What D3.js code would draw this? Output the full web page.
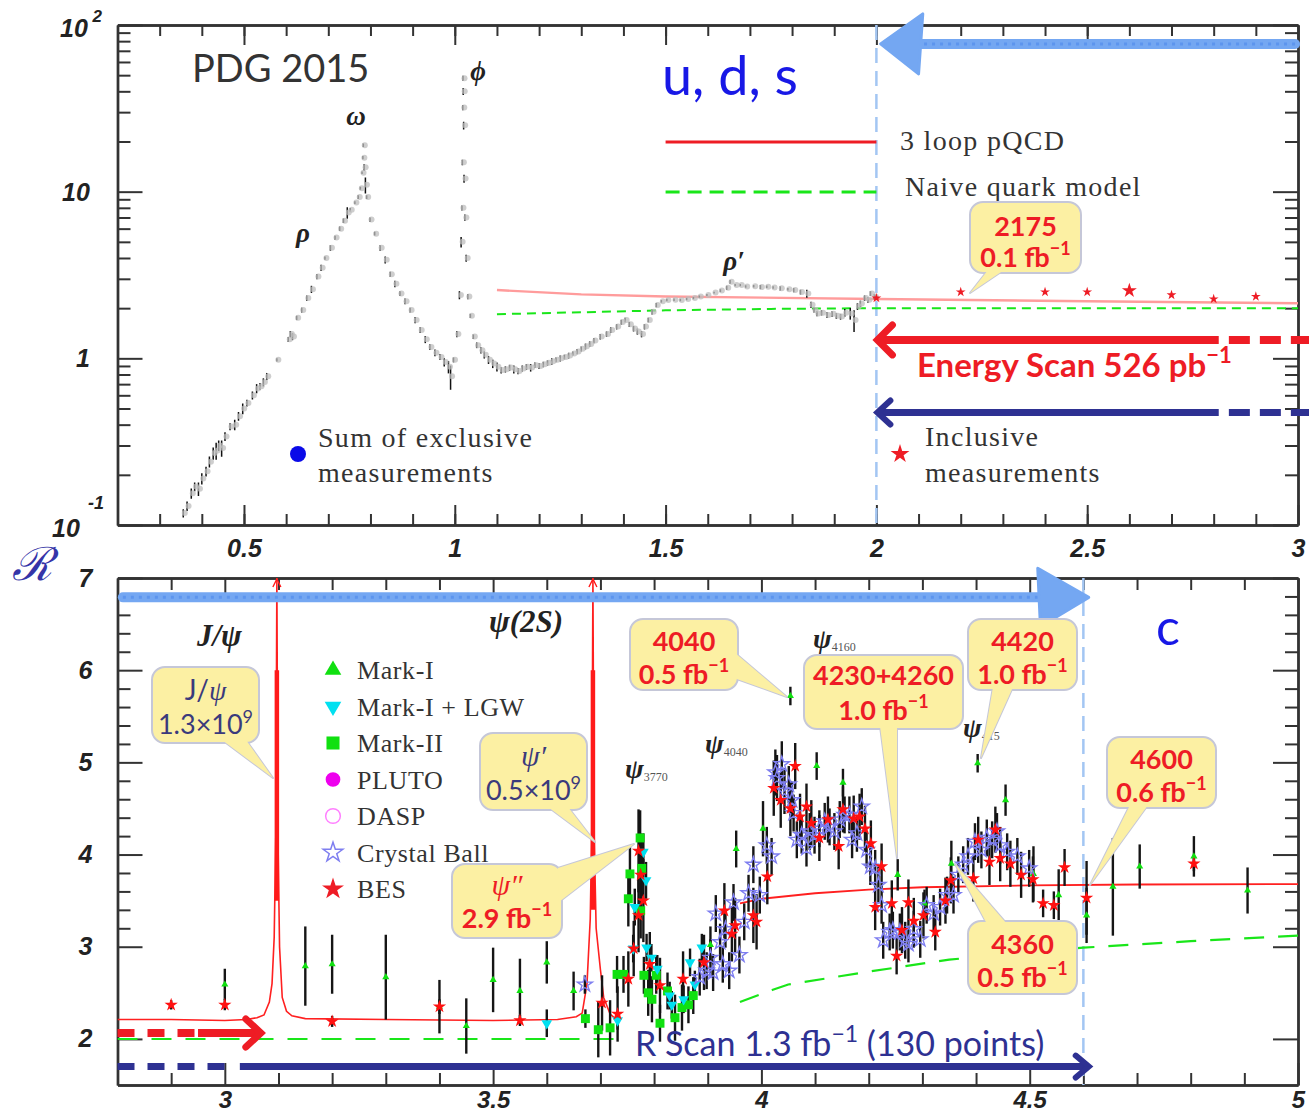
<!DOCTYPE html>
<html><head><meta charset="utf-8">
<script src="https://cdn.jsdelivr.net/npm/d3@7"></script>
<style>body{margin:0;background:#fff}svg{display:block}</style>
</head><body>
<svg id="c" width="1309" height="1115"></svg>
<script>
// ================= DATA =================
// top panel: sum of exclusive measurements [E (GeV), R, err]
const topExclusive = [
[0.356,0.118,0.01],[0.365,0.13,0.012],[0.375,0.155,0.015],[0.383,0.17,0.015],[0.392,0.165,0.02],[0.40,0.19,0.02],
[0.41,0.21,0.02],[0.418,0.24,0.025],[0.427,0.27,0.03],[0.434,0.28,0.04],[0.44,0.30,0.03],[0.447,0.29,0.04],
[0.455,0.34,0.03],[0.467,0.39,0.03],[0.478,0.40,0.04],[0.487,0.45,0.04],[0.497,0.50,0.05],[0.507,0.54,0.04],
[0.52,0.60,0.05],[0.53,0.66,0.06],[0.538,0.68,0.05],[0.546,0.72,0.06],[0.554,0.78,0.06],[0.578,0.98,0.05],
[0.605,1.30,0.08],[0.61,1.40,0.1],[0.615,1.35,0.1],[0.625,1.75,0.1],[0.637,1.95,0.12],[0.649,2.3,0.15],
[0.66,2.6,0.2],[0.673,3.1,0.2],[0.683,3.5,0.25],[0.692,4.0,0.2],[0.705,4.6,0.3],[0.716,5.3,0.3],
[0.727,6.0,0.35],[0.736,6.7,0.4],[0.745,7.5,0.8],[0.752,7.8,0.4],[0.763,8.6,0.4],[0.771,9.3,0.5],
[0.776,10.5,0.5],[0.78,13,0.6],[0.782,16,0.8],[0.783,19,1.0],[0.785,14,1.0],[0.788,11,1.5],
[0.791,9.3,0.5],[0.799,6.8,0.4],[0.81,5.6,0.3],[0.823,4.6,0.3],[0.835,3.9,0.3],[0.847,3.2,0.2],
[0.858,2.8,0.2],[0.870,2.45,0.15],[0.882,2.2,0.15],[0.894,1.95,0.12],[0.906,1.7,0.12],[0.918,1.48,0.1],
[0.93,1.3,0.1],[0.941,1.17,0.08],[0.953,1.08,0.08],[0.965,1.02,0.07],[0.975,0.95,0.08],[0.985,0.89,0.1],
[0.99,0.78,0.15],[0.997,0.98,0.06],[1.005,1.4,0.1],[1.011,2.4,0.2],[1.015,5,0.5],[1.017,8,0.5],
[1.018,15,1],[1.019,32,2],[1.0195,48,3],[1.020,40,3],[1.021,25,2],[1.022,12,1],[1.024,7,0.5],
[1.027,4.0,0.3],[1.031,2.35,0.15],[1.037,1.8,0.1],[1.044,1.35,0.08],[1.052,1.2,0.08],[1.062,1.12,0.08],
[1.07,1.05,0.08],[1.08,0.98,0.08],[1.09,0.93,0.08],[1.10,0.89,0.08],[1.11,0.85,0.06],[1.12,0.86,0.06],
[1.13,0.88,0.06],[1.14,0.86,0.07],[1.15,0.84,0.06],[1.16,0.87,0.06],[1.17,0.89,0.06],[1.18,0.88,0.07],
[1.19,0.91,0.06],[1.20,0.90,0.06],[1.21,0.92,0.06],[1.22,0.94,0.06],[1.23,0.96,0.07],[1.24,0.98,0.06],
[1.25,1.0,0.07],[1.26,1.02,0.06],[1.27,1.04,0.07],[1.28,1.07,0.06],[1.29,1.10,0.07],[1.30,1.14,0.07],
[1.31,1.18,0.08],[1.32,1.22,0.08],[1.33,1.28,0.08],[1.345,1.35,0.09],[1.36,1.40,0.09],[1.37,1.48,0.1],
[1.384,1.55,0.1],[1.395,1.65,0.1],[1.404,1.70,0.1],[1.414,1.60,0.1],[1.424,1.51,0.1],[1.433,1.45,0.1],
[1.443,1.40,0.1],[1.45,1.55,0.1],[1.459,1.70,0.1],[1.468,1.90,0.12],[1.478,2.09,0.12],[1.49,2.2,0.1],
[1.503,2.24,0.1],[1.52,2.25,0.1],[1.535,2.24,0.1],[1.55,2.27,0.1],[1.566,2.30,0.1],[1.58,2.35,0.1],
[1.598,2.40,0.1],[1.615,2.48,0.1],[1.63,2.55,0.12],[1.645,2.65,0.15],[1.653,2.88,0.15],[1.665,2.75,0.12],
[1.677,2.75,0.12],[1.69,2.70,0.12],[1.709,2.71,0.12],[1.725,2.68,0.15],[1.74,2.69,0.12],[1.755,2.66,0.12],
[1.772,2.63,0.15],[1.79,2.6,0.12],[1.804,2.57,0.15],[1.82,2.5,0.15],[1.835,2.45,0.2],[1.845,2.1,0.15],
[1.852,1.95,0.12],[1.859,1.86,0.12],[1.87,1.88,0.12],[1.883,1.82,0.12],[1.895,1.85,0.12],[1.905,1.80,0.12],
[1.915,1.78,0.12],[1.925,1.88,0.15],[1.938,1.86,0.2],[1.947,1.70,0.3],[1.955,2.05,0.15],[1.962,2.13,0.15],
[1.972,2.3,0.15],[1.98,2.25,0.15],[1.986,2.45,0.15],[1.995,2.35,0.15]
];
// top panel: inclusive measurements [E, R, size-class]
const topInclusive = [[2.0,2.3,0],[2.2,2.5,0],[2.4,2.5,0],[2.5,2.5,0],[2.6,2.55,1],[2.7,2.4,0],[2.8,2.27,0],[2.9,2.35,0]];
const topPQCD  = [[1.1,2.57],[1.3,2.42],[1.5,2.35],[2.0,2.27],[2.5,2.2],[3.0,2.14]];
const topNaive = [[1.1,1.84],[1.3,1.89],[1.5,1.94],[1.75,1.98],[2.0,2.0],[3.0,2.0]];

// bottom panel experiments [E, R, err]
const markI = [
[3.0,2.59,0.17],[3.15,2.79,0.43],[3.2,2.81,0.32],[3.3,2.67,0.46],[3.4,2.35,0.29],[3.45,2.14,0.30],
[3.5,2.64,0.35],[3.55,2.52,0.35],[3.6,2.83,0.23],[3.65,2.52,0.21],[3.905,3.02,0.2],[3.953,4.06,0.2],
[4.003,4.28,0.3],[4.054,5.72,0.1],[4.103,4.96,0.15],[4.152,4.78,0.15],[4.254,3.78,0.17],[4.304,3.47,0.15],
[4.354,3.90,0.25],[4.403,4.99,0.1],[4.455,4.59,0.17],[4.507,3.79,0.3],[4.554,3.56,0.28],[4.606,3.34,0.3],
[4.655,3.65,0.53],[4.705,3.87,0.24],[4.806,3.98,0.22],[4.906,3.61,0.25]
];
const markILGW = [
[3.6,2.17,0.15],[3.732,2.20,0.1],[3.761,2.98,0.15],[3.764,3.43,0.2],[3.780,4.03,0.2],[3.785,3.72,0.2],
[3.786,2.99,0.15],[3.795,2.88,0.15],[3.806,2.76,0.15],[3.829,2.47,0.15],[3.833,2.37,0.15],[3.855,2.43,0.15],
[3.867,2.83,0.15],[3.876,2.59,0.15],[3.889,2.99,0.15]
];
const markII = [
[3.672,2.22,0.1],[3.696,2.10,0.3],[3.718,2.12,0.3],[3.731,2.70,0.2],[3.743,2.70,0.2],[3.752,3.52,0.3],
[3.755,3.79,0.3],[3.774,4.18,0.3],[3.777,3.85,0.3],[3.775,3.39,0.3],[3.781,2.69,0.2],[3.789,2.50,0.25],
[3.796,2.43,0.25],[3.804,2.69,0.2],[3.811,2.17,0.2],[3.825,2.52,0.2],[3.839,2.23,0.25],[3.852,2.34,0.25],
[3.864,2.37,0.2],[3.873,2.47,0.2]
];
const pluto = [];
const dasp = [];
const crystalBall = [
[3.671,2.59,0.1],[3.885,2.67,0.2],[3.898,2.74,0.2],[3.905,2.88,0.2],[3.910,2.72,0.2],[3.915,3.36,0.2],
[3.923,3.05,0.2],[3.928,2.81,0.2],[3.933,3.19,0.2],[3.940,2.74,0.2],[3.948,3.48,0.2],[3.959,2.91,0.2],
[3.968,3.27,0.2],[3.976,3.58,0.2],[3.985,3.89,0.2],[3.997,3.56,0.2],[4.010,4.10,0.2],[4.019,3.98,0.2],
[4.026,4.89,0.25],[4.029,4.83,0.25],[4.038,4.98,0.25],[4.043,4.69,0.25],[4.051,4.76,0.2],[4.057,4.59,0.2],
[4.060,4.45,0.2],[4.066,4.16,0.2],[4.075,4.21,0.2],[4.084,4.07,0.2],[4.090,4.25,0.2],[4.099,4.21,0.2],
[4.108,4.28,0.2],[4.118,4.36,0.2],[4.127,4.30,0.2],[4.136,4.25,0.2],[4.146,4.38,0.2],[4.155,4.43,0.2],
[4.164,4.43,0.2],[4.169,4.16,0.2],[4.178,4.23,0.2],[4.187,4.52,0.2],[4.196,4.05,0.2],[4.203,3.87,0.2],
[4.212,3.85,0.2],[4.218,3.67,0.2],[4.224,3.45,0.2],[4.227,3.07,0.2],[4.239,3.16,0.2],[4.245,3.18,0.2],
[4.258,3.16,0.2],[4.268,3.07,0.2],[4.274,3.03,0.2],[4.284,3.19,0.2],[4.296,3.08,0.2],[4.308,3.45,0.2],
[4.321,3.36,0.2],[4.333,3.43,0.2],[4.346,3.56,0.2],[4.358,3.56,0.2],[4.367,3.78,0.2],[4.376,3.89,0.2],
[4.385,3.98,0.2],[4.398,4.14,0.2],[4.410,4.05,0.2],[4.420,4.18,0.2],[4.430,4.16,0.2],[4.439,4.25,0.2],
[4.445,4.10,0.2],[4.458,4.03,0.2],[4.477,3.98,0.2],[4.499,3.85,0.2]
];
const bes = [
[2.9,2.37,0.05],[3.0,2.37,0.06],[3.2,2.19,0.06],[3.4,2.35,0.08],[3.55,2.2,0.06],[3.703,2.39,0.3],
[3.732,2.27,0.3],[3.752,2.65,0.3],[3.762,2.98,0.3],[3.771,4.04,0.45],[3.775,3.78,0.45],[3.780,3.50,0.45],
[3.771,3.34,0.4],[3.792,2.81,0.35],[3.811,2.58,0.3],[3.854,2.65,0.3],[3.893,2.83,0.3],[3.931,3.39,0.3],
[3.945,3.14,0.3],[3.951,3.23,0.3],[3.985,3.34,0.3],[3.991,3.27,0.3],[4.011,3.76,0.3],[4.023,4.72,0.3],
[4.036,4.59,0.3],[4.054,4.50,0.3],[4.063,4.96,0.25],[4.072,4.41,0.25],[4.084,4.52,0.25],[4.093,4.34,0.25],
[4.108,4.18,0.25],[4.124,4.38,0.25],[4.144,4.09,0.25],[4.152,4.49,0.25],[4.172,4.39,0.25],[4.183,4.41,0.25],
[4.193,4.28,0.25],[4.204,4.12,0.25],[4.212,3.43,0.25],[4.224,3.87,0.25],[4.243,3.47,0.25],[4.252,2.90,0.2],
[4.262,3.18,0.25],[4.274,3.48,0.25],[4.284,3.28,0.25],[4.302,3.34,0.25],[4.324,3.16,0.2],[4.343,3.50,0.25],
[4.353,3.72,0.25],[4.395,3.74,0.25],[4.404,4.16,0.25],[4.425,3.92,0.25],[4.436,4.27,0.25],[4.445,3.96,0.25],
[4.464,3.90,0.25],[4.484,3.78,0.25],[4.506,3.73,0.25],[4.525,3.47,0.15],[4.545,3.45,0.15],[4.565,3.86,0.2],
[4.606,3.53,0.4],[4.806,3.90,0.08]
];
// bottom panel theory curves [E, R]
const botPQCDLow = [[2.8,2.21],[2.9,2.21],[3.0,2.2],[3.04,2.21],[3.06,2.23],[3.073,2.26],[3.083,2.4],[3.088,2.6],
[3.092,3.1],[3.095,4.2],[3.097,7.0],[3.099,4.2],[3.102,3.0],[3.107,2.45],[3.115,2.3],[3.125,2.25],[3.15,2.22],
[3.3,2.21],[3.5,2.2],[3.62,2.21],[3.655,2.24],[3.666,2.28],[3.675,2.6],[3.681,3.3],[3.684,4.3],[3.686,7.0],
[3.688,4.3],[3.692,3.2],[3.70,2.75],[3.706,2.45],[3.718,2.27],[3.73,2.21]];
const botPQCDHigh = [[3.96,3.47],[4.0,3.52],[4.1,3.58],[4.2,3.62],[4.3,3.645],[4.5,3.665],[4.7,3.675],[5.0,3.68]];
const botNaiveLow = [[2.8,2.0],[3.73,2.0]];
const botNaiveHigh = [[3.96,2.40],[4.02,2.53],[4.05,2.59],[4.2,2.73],[4.35,2.86],[4.6,2.99],[4.8,3.06],[5.0,3.12]];
const resonances = [[3.097,3.5,6.0],[3.686,3.4,6.0]]; // [E, thick-from R, thick-to R]

// axis ticks / labels
const topXMajor = [0.5,1,1.5,2,2.5,3];
const topXLabels = ["0.5","1","1.5","2","2.5","3"];
const topYMajor = [0.1,1,10,100];
const botXMajor = [3,3.5,4,4.5,5];
const botXLabels = ["3","3.5","4","4.5","5"];
const botYMajor = [2,3,4,5,6,7];
const botYLabels = ["2","3","4","5","6","7"];

// ================= DRAW =================
const svg = d3.select("#c");
svg.append("rect").attr("width",1309).attr("height",1115).attr("fill","#fff");
const xT = d3.scaleLinear().domain([0.2,3]).range([117.5,1298]);
const yT = d3.scaleLog().domain([0.1,100]).range([525,25]);
const xB = d3.scaleLinear().domain([2.8,5]).range([117.5,1298]);
const yB = d3.scaleLinear().domain([1.5,7]).range([1085,578]);

const RED="#ee1c25", NAVY="#2e3192", LBLUE="#74a7f2", DLINE="#a3c6f3", GREEN="#19e619";
const CFILL="#fcf0a3", CSTROKE="#c5c7d8";
const SANS="Lato, 'Open Sans', sans-serif", SERIF="'Liberation Serif', 'DejaVu Serif', serif";
const TICKF="'Liberation Sans', Arial, sans-serif";

const defs = svg.append("defs");
defs.append("clipPath").attr("id","clipT").append("rect").attr("x",117.5).attr("y",25).attr("width",1180.5).attr("height",500);
defs.append("clipPath").attr("id","clipB").append("rect").attr("x",117.5).attr("y",578).attr("width",1180.5).attr("height",507);

function richText(g, x, y, parts, attrs) {
  const t = g.append("text").attr("x",x).attr("y",y);
  Object.entries(attrs||{}).forEach(([k,v])=>t.attr(k,v));
  let shift = 0;
  parts.forEach(p => {
    const s = t.append("tspan").text(p.t);
    const target = p.sup ? -p.sup : (p.sub ? p.sub : 0);
    if (target - shift !== 0) s.attr("dy", target - shift);
    shift = target;
    ["font-size","font-style","font-weight","fill","font-family"].forEach(k=>{ if(p[k]!==undefined) s.attr(k,p[k]); });
  });
  return t;
}

function styleAxis(sel){
  sel.select(".domain").attr("stroke","#333").attr("stroke-width",2.4);
  sel.selectAll(".tick line").attr("stroke","#333").attr("stroke-width",2);
}
function frame(x, y, minorX, majorX, minorY, majorY, mxS, MxS, myS, MyS) {
  const g = svg.append("g");
  const [x0,x1] = x.range(), [y0,y1] = y.range();
  const ax = [
    [d3.axisBottom(x).tickValues(minorX).tickSize(-mxS), `0,${y0}`],
    [d3.axisBottom(x).tickValues(majorX).tickSize(-MxS), `0,${y0}`],
    [d3.axisTop(x).tickValues(minorX).tickSize(-mxS), `0,${y1}`],
    [d3.axisTop(x).tickValues(majorX).tickSize(-MxS), `0,${y1}`],
    [d3.axisLeft(y).tickValues(minorY).tickSize(-myS), `${x0},0`],
    [d3.axisLeft(y).tickValues(majorY).tickSize(-MyS), `${x0},0`],
    [d3.axisRight(y).tickValues(minorY).tickSize(-myS), `${x1},0`],
    [d3.axisRight(y).tickValues(majorY).tickSize(-MyS), `${x1},0`]
  ];
  ax.forEach(([a,tr]) => {
    g.append("g").attr("transform",`translate(${tr})`).call(a.tickSizeOuter(0).tickFormat("")).call(styleAxis);
  });
  return g;
}

// ---------- TOP PANEL ----------
const topMinorX = xT.ticks(28).filter(v=>v>0.2+1e-9 && v<3-1e-9);
const topMinorY = yT.ticks().filter(v=>!topYMajor.some(m=>Math.abs(m-v)<1e-9));
frame(xT, yT, topMinorX, topXMajor, topMinorY, topYMajor, 11, 20, 13, 25);
svg.append("g").attr("transform","translate(0,525)")
  .call(d3.axisBottom(xT).tickValues(topXMajor).tickSize(0).tickPadding(14).tickFormat((d,i)=>topXLabels[i]))
  .call(g=>{g.select(".domain").remove(); g.selectAll("text").attr("font-family",TICKF).attr("font-weight","bold").attr("font-style","italic").attr("font-size",25).attr("fill","#222");});
const ylab = svg.append("g").attr("font-family",TICKF).attr("font-weight","bold").attr("font-style","italic").attr("fill","#222");
richText(ylab, 60, yT(100)+12, [{t:"10"},{t:" 2",sup:15,"font-size":17}], {"font-size":25});
richText(ylab, 62, yT(10)+9, [{t:"10"}], {"font-size":25});
richText(ylab, 76, yT(1)+9, [{t:"1"}], {"font-size":25});
richText(ylab, 52, yT(0.1)+12, [{t:"10"}], {"font-size":25});
richText(ylab, 88, yT(0.1)-16, [{t:"-1"}], {"font-size":18});

const gT = svg.append("g").attr("clip-path","url(#clipT)");
gT.append("line").attr("x1",xT(2)).attr("x2",xT(2)).attr("y1",25).attr("y2",525)
  .attr("stroke",DLINE).attr("stroke-width",2.5).attr("stroke-dasharray","15,8");
const lineT = d3.line().x(d=>xT(d[0])).y(d=>yT(d[1]));
gT.append("path").attr("d",lineT(topPQCD)).attr("fill","none").attr("stroke","#ff9c9c").attr("stroke-width",2.4);
gT.append("path").attr("d",lineT(topNaive)).attr("fill","none").attr("stroke",GREEN).attr("stroke-width",2).attr("stroke-dasharray","9,6");
gT.selectAll(null).data(topExclusive).join("line").attr("x1",d=>xT(d[0])).attr("x2",d=>xT(d[0]))
  .attr("y1",d=>yT(d[1]-d[2])-2).attr("y2",d=>yT(d[1]+d[2])+2).attr("stroke","#111").attr("stroke-width",1.5);
gT.selectAll(null).data(topExclusive).join("circle").attr("cx",d=>xT(d[0])+1.5).attr("cy",d=>yT(d[1])).attr("r",3).attr("fill","#bdbdbd").attr("fill-opacity",0.75);
gT.selectAll(null).data(topInclusive).join("path").attr("transform",d=>`translate(${xT(d[0])},${yT(d[1])})`)
  .attr("d",d=>d3.symbol(d3.symbolStar, d[2]?70:30)()).attr("fill",RED);

const gA = svg.append("g");
gA.append("line").attr("x1",xT(2.993)).attr("x2",xT(2.09)).attr("y1",yT(77)).attr("y2",yT(77)).attr("stroke",LBLUE).attr("stroke-width",10).attr("stroke-linecap","round");
gA.append("line").attr("x1",xT(2.993)).attr("x2",xT(2.09)).attr("y1",yT(77)).attr("y2",yT(77)).attr("stroke","#5d95ee").attr("stroke-width",3).attr("stroke-dasharray","3,5");
gA.append("path").attr("d",`M${xT(2.01)},${yT(77)} L${xT(2.11)},${yT(77)-30} L${xT(2.1)},${yT(77)+30} Z`).attr("fill",LBLUE).attr("stroke",LBLUE).attr("stroke-width",3).attr("stroke-linejoin","round");
gA.append("line").attr("x1",xT(2.005)).attr("x2",xT(2.812)).attr("y1",yT(1.29)).attr("y2",yT(1.29)).attr("stroke",RED).attr("stroke-width",8);
gA.append("line").attr("x1",xT(2.836)).attr("x2",xT(3.027)).attr("y1",yT(1.29)).attr("y2",yT(1.29)).attr("stroke",RED).attr("stroke-width",8).attr("stroke-dasharray","21,10");
gA.append("path").attr("d",`M${xT(2.0)+16},${yT(1.29)-15} L${xT(2.0)+1},${yT(1.29)} L${xT(2.0)+16},${yT(1.29)+15}`).attr("fill","none").attr("stroke",RED).attr("stroke-width",7).attr("stroke-linecap","round");
gA.append("line").attr("x1",xT(2.005)).attr("x2",xT(2.812)).attr("y1",yT(0.473)).attr("y2",yT(0.473)).attr("stroke",NAVY).attr("stroke-width",7);
gA.append("line").attr("x1",xT(2.836)).attr("x2",xT(3.027)).attr("y1",yT(0.473)).attr("y2",yT(0.473)).attr("stroke",NAVY).attr("stroke-width",7).attr("stroke-dasharray","21,10");
gA.append("path").attr("d",`M${xT(2.0)+14},${yT(0.473)-12} L${xT(2.0)+1},${yT(0.473)} L${xT(2.0)+14},${yT(0.473)+12}`).attr("fill","none").attr("stroke",NAVY).attr("stroke-width",6).attr("stroke-linecap","round");

const tt = svg.append("g");
tt.append("text").attr("x",192).attr("y",82).attr("font-family",SANS).attr("font-size",38).attr("fill","#333").text("PDG 2015");
tt.append("text").attr("x",662).attr("y",95).attr("font-family",SANS).attr("font-size",54).attr("fill","#1818e6").text("u, d, s");
const greek = (x,y,s,size)=>tt.append("text").attr("x",x).attr("y",y).attr("text-anchor","middle").attr("font-family",SERIF).attr("font-style","italic").attr("font-weight","bold").attr("font-size",size||27).attr("fill","#222").text(s);
greek(356,125,"ω"); greek(303,242,"ρ"); greek(478,80,"ϕ"); greek(734,270,"ρ′");
tt.append("line").attr("x1",xT(1.5)).attr("x2",xT(2.0)).attr("y1",142).attr("y2",142).attr("stroke",RED).attr("stroke-width",3);
tt.append("line").attr("x1",xT(1.5)).attr("x2",xT(2.0)).attr("y1",192).attr("y2",192).attr("stroke",GREEN).attr("stroke-width",3).attr("stroke-dasharray","14,8");
const serifT = (x,y,s)=>tt.append("text").attr("x",x).attr("y",y).attr("font-family",SERIF).attr("font-size",28).attr("letter-spacing",1.3).attr("fill","#333").text(s);
serifT(900,150,"3 loop pQCD"); serifT(905,196,"Naive quark model");
serifT(318,447,"Sum of exclusive"); serifT(318,482,"measurements");
serifT(925,446,"Inclusive"); serifT(925,482,"measurements");
tt.append("circle").attr("cx",298).attr("cy",454).attr("r",8).attr("fill","#0a0ae8");
tt.append("path").attr("transform","translate(900,454)").attr("d",d3.symbol(d3.symbolStar,110)()).attr("fill",RED);
richText(tt, 917, 377, [{t:"Energy Scan 526 pb"},{t:"−1",sup:14,"font-size":22}], {"font-family":SANS,"font-weight":"bold","font-size":33,"fill":RED});

// ---------- BOTTOM PANEL ----------
const botMinorX = xB.ticks(22).filter(v=>v>2.8+1e-9 && v<5-1e-9 && !botXMajor.some(m=>Math.abs(m-v)<1e-9));
const botMinorY = d3.range(16,35).map(v=>v/5).filter(v=>v>1.5 && v<7 && !botYMajor.some(m=>Math.abs(m-v)<1e-9));
frame(xB, yB, botMinorX, botXMajor, botMinorY, botYMajor, 12, 22, 13, 25);
svg.append("g").attr("transform","translate(0,1085)")
  .call(d3.axisBottom(xB).tickValues(botXMajor).tickSize(0).tickPadding(6).tickFormat((d,i)=>botXLabels[i]))
  .call(g=>{g.select(".domain").remove(); g.selectAll("text").attr("font-family",TICKF).attr("font-weight","bold").attr("font-style","italic").attr("font-size",24).attr("fill","#222");});
svg.append("g").attr("transform","translate(117.5,0)")
  .call(d3.axisLeft(yB).tickValues(botYMajor).tickSize(0).tickPadding(25).tickFormat((d,i)=>botYLabels[i]))
  .call(g=>{g.select(".domain").remove(); g.selectAll("text").attr("font-family",TICKF).attr("font-weight","bold").attr("font-style","italic").attr("font-size",25).attr("fill","#222");});
svg.append("text").attr("x",12).attr("y",580).attr("font-family","'DejaVu Serif', serif").attr("font-style","italic").attr("font-size",46).attr("fill","#3535a8").text("ℛ");

const gB = svg.append("g").attr("clip-path","url(#clipB)");
gB.append("line").attr("x1",xB(4.6)).attr("x2",xB(4.6)).attr("y1",578).attr("y2",1085)
  .attr("stroke",DLINE).attr("stroke-width",2.5).attr("stroke-dasharray","15,8");
const lineB = d3.line().x(d=>xB(d[0])).y(d=>yB(d[1]));
gB.append("path").attr("d",lineB(botNaiveLow)).attr("fill","none").attr("stroke",GREEN).attr("stroke-width",2).attr("stroke-dasharray","20,14");
gB.append("path").attr("d",lineB(botNaiveHigh)).attr("fill","none").attr("stroke",GREEN).attr("stroke-width",2.2).attr("stroke-dasharray","20,14");
gB.append("path").attr("d",lineB(botPQCDLow)).attr("fill","none").attr("stroke","#ff2020").attr("stroke-width",1.6);
gB.append("path").attr("d",lineB(botPQCDHigh)).attr("fill","none").attr("stroke","#ff2020").attr("stroke-width",1.8);
resonances.forEach(r=>{
  gB.append("line").attr("x1",xB(r[0])).attr("x2",xB(r[0])).attr("y1",yB(r[1])).attr("y2",yB(r[2])).attr("stroke","#ff1a1a").attr("stroke-width",4.5);
  gB.append("path").attr("d",`M${xB(r[0])-4},${yB(7)+9} L${xB(r[0])},${yB(7)+1} L${xB(r[0])+4},${yB(7)+9}`).attr("fill","none").attr("stroke","#ff1a1a").attr("stroke-width",1.4);
});
const allSets = [markI, markILGW, markII, pluto, dasp, crystalBall, bes];
allSets.forEach(set=>{
  gB.selectAll(null).data(set).join("line").attr("x1",d=>xB(d[0])).attr("x2",d=>xB(d[0]))
    .attr("y1",d=>yB(d[1]-d[2])).attr("y2",d=>yB(d[1]+d[2])).attr("stroke","#151515").attr("stroke-width",2.4);
});
function markers(set, sym, size, fill, stroke, rot) {
  gB.selectAll(null).data(set).join("path").attr("transform",d=>`translate(${xB(d[0])},${yB(d[1])})${rot?" rotate(180)":""}`)
    .attr("d",d3.symbol(sym,size)()).attr("fill",fill).attr("stroke",stroke||"none").attr("stroke-width",1.4);
}
markers(markII, d3.symbolSquare, 80, "#10e010");
markers(markILGW, d3.symbolTriangle, 50, "#00e0f0", null, true);
markers(markI, d3.symbolTriangle, 22, "#10e010");
markers(pluto, d3.symbolCircle, 60, "#ee00ee");
markers(dasp, d3.symbolCircle, 60, "none", "#ff70ff");
markers(crystalBall, d3.symbolStar, 70, "none", "#7e7ef0");
markers(bes, d3.symbolStar, 55, "#ff1010");

const gBA = svg.append("g");
gBA.append("line").attr("x1",xB(2.81)).attr("x2",xB(4.53)).attr("y1",yB(6.79)).attr("y2",yB(6.79)).attr("stroke",LBLUE).attr("stroke-width",10).attr("stroke-linecap","round");
gBA.append("line").attr("x1",xB(2.81)).attr("x2",xB(4.53)).attr("y1",yB(6.79)).attr("y2",yB(6.79)).attr("stroke","#5d95ee").attr("stroke-width",3).attr("stroke-dasharray","3,5");
gBA.append("path").attr("d",`M${xB(4.61)},${yB(6.79)} L${xB(4.515)},${yB(6.79)-29} L${xB(4.52)},${yB(6.79)+29} Z`).attr("fill",LBLUE).attr("stroke",LBLUE).attr("stroke-width",3).attr("stroke-linejoin","round");
gBA.append("line").attr("x1",xB(2.8)).attr("x2",xB(2.95)).attr("y1",yB(2.064)).attr("y2",yB(2.064)).attr("stroke",RED).attr("stroke-width",8).attr("stroke-dasharray","17,13");
gBA.append("line").attr("x1",xB(2.95)).attr("x2",xB(3.066)).attr("y1",yB(2.064)).attr("y2",yB(2.064)).attr("stroke",RED).attr("stroke-width",8);
gBA.append("path").attr("d",`M${xB(3.069)-16},${yB(2.064)-14} L${xB(3.069)-1},${yB(2.064)} L${xB(3.069)-16},${yB(2.064)+14}`).attr("fill","none").attr("stroke",RED).attr("stroke-width",7).attr("stroke-linecap","round");
gBA.append("line").attr("x1",xB(2.8)).attr("x2",xB(3.0)).attr("y1",yB(1.70)).attr("y2",yB(1.70)).attr("stroke",NAVY).attr("stroke-width",7).attr("stroke-dasharray","17,13");
gBA.append("line").attr("x1",xB(3.028)).attr("x2",xB(4.605)).attr("y1",yB(1.70)).attr("y2",yB(1.70)).attr("stroke",NAVY).attr("stroke-width",7);
gBA.append("path").attr("d",`M${xB(4.61)-13},${yB(1.70)-11} L${xB(4.61)},${yB(1.70)} L${xB(4.61)-13},${yB(1.70)+11}`).attr("fill","none").attr("stroke",NAVY).attr("stroke-width",6).attr("stroke-linecap","round");
richText(gBA, 635, 1056, [{t:"R Scan 1.3 fb"},{t:"−1",sup:14,"font-size":23},{t:" (130 points)"}], {"font-family":SANS,"font-size":34,"fill":NAVY});
gBA.append("text").attr("x",1156).attr("y",645).attr("font-family",SANS).attr("font-size",50).attr("fill","#1818e6").text("c");

const gl = svg.append("g").attr("font-family",SERIF).attr("font-style","italic").attr("font-weight","bold").attr("fill","#222");
gl.append("text").attr("x",197).attr("y",646).attr("font-size",31).text("J/ψ");
richText(gl, 489, 632, [{t:"ψ(2"},{t:"S"},{t:")"}], {"font-size":31});
function psiSub(x,y,sub){ richText(gl, x, y, [{t:"ψ"},{t:sub,sub:3,"font-size":12,"font-weight":"normal","font-style":"normal","fill":"#555"}], {"font-size":28}); }
psiSub(625,778,"3770"); psiSub(705,753,"4040"); psiSub(813,648,"4160"); psiSub(963,737,"415");

const legItems = [
 ["Mark-I", d3.symbolTriangle, 120, "#10e010", null, false],
 ["Mark-I + LGW", d3.symbolTriangle, 120, "#00e0f0", null, true],
 ["Mark-II", d3.symbolSquare, 170, "#10e010", null, false],
 ["PLUTO", d3.symbolCircle, 170, "#ee00ee", null, false],
 ["DASP", d3.symbolCircle, 170, "none", "#ff80ff", false],
 ["Crystal Ball", d3.symbolStar, 120, "none", "#7e7ef0", false],
 ["BES", d3.symbolStar, 150, RED, null, false]
];
const gLeg = svg.append("g");
legItems.forEach((it,i)=>{
  const cy = 670 + i*36.5;
  gLeg.append("path").attr("transform",`translate(333,${cy})${it[5]?" rotate(180)":""}`).attr("d",d3.symbol(it[1],it[2])()).attr("fill",it[3]).attr("stroke",it[4]||"none").attr("stroke-width",1.5);
  gLeg.append("text").attr("x",357).attr("y",cy+9).attr("font-family",SERIF).attr("font-size",26).attr("letter-spacing",0.6).attr("fill","#333").text(it[0]);
});

// ---------- CALLOUTS ----------
function callout(box, tail, lines) {
  const g = svg.append("g");
  const [x0,y0,x1,y1] = box;
  const tri = tail.map(p=>p.join(",")).join(" ");
  g.append("polygon").attr("points",tri).attr("fill",CFILL).attr("stroke",CSTROKE).attr("stroke-width",2).attr("stroke-linejoin","round");
  g.append("rect").attr("x",x0).attr("y",y0).attr("width",x1-x0).attr("height",y1-y0).attr("rx",13).attr("fill",CFILL).attr("stroke",CSTROKE).attr("stroke-width",2);
  g.append("polygon").attr("points",tri).attr("fill",CFILL);
  lines.forEach(l=>richText(g,(x0+x1)/2,l[0],l[1],Object.assign({"text-anchor":"middle","font-family":SANS,"font-weight":"bold","font-size":27,"fill":RED},l[2]||{})));
}
const fb = n => [{t:n+" fb"},{t:"−1",sup:12,"font-size":18}];
callout([970,202,1081,273],[[988,270],[1004,270],[970,293]],[[236,[{t:"2175"}]],[267,fb("0.1")]]);
callout([152,667,259,743],[[222,740],[246,740],[273,778]],[
  [700,[{t:"J/"},{t:"ψ","font-family":SERIF,"font-style":"italic"}],{"font-weight":"normal","fill":"#3a3a7c","font-size":28}],
  [734,[{t:"1.3×10"},{t:"9",sup:11,"font-size":18}],{"font-weight":"normal","fill":"#3a3a7c","font-size":27}]]);
callout([480,733,587,810],[[548,807],[568,807],[595,842]],[
  [766,[{t:"ψ′","font-family":SERIF,"font-style":"italic"}],{"font-weight":"normal","fill":"#3a3a7c","font-size":30}],
  [800,[{t:"0.5×10"},{t:"9",sup:11,"font-size":18}],{"font-weight":"normal","fill":"#3a3a7c","font-size":27}]]);
callout([452,864,562,938],[[558,868],[559,902],[634,844]],[
  [895,[{t:"ψ″","font-family":SERIF,"font-style":"italic"}],{"font-weight":"normal","font-size":30}],
  [928,fb("2.9")]]);
callout([630,619,738,690],[[734,652],[734,678],[787,697]],[[651,[{t:"4040"}]],[684,fb("0.5")]]);
callout([804,655,963,729],[[880,726],[897,726],[897,858]],[[685,[{t:"4230+4260"}]],[720,fb("1.0")]]);
callout([968,619,1077,690],[[993,687],[1013,687],[981,758]],[[651,[{t:"4420"}]],[684,fb("1.0")]]);
callout([968,921,1077,994],[[987,924],[1007,924],[955,864]],[[954,[{t:"4360"}]],[987,fb("0.5")]]);
callout([1107,737,1216,808],[[1130,805],[1148,805],[1090,885]],[[769,[{t:"4600"}]],[802,fb("0.6")]]);
</script>
</body></html>
